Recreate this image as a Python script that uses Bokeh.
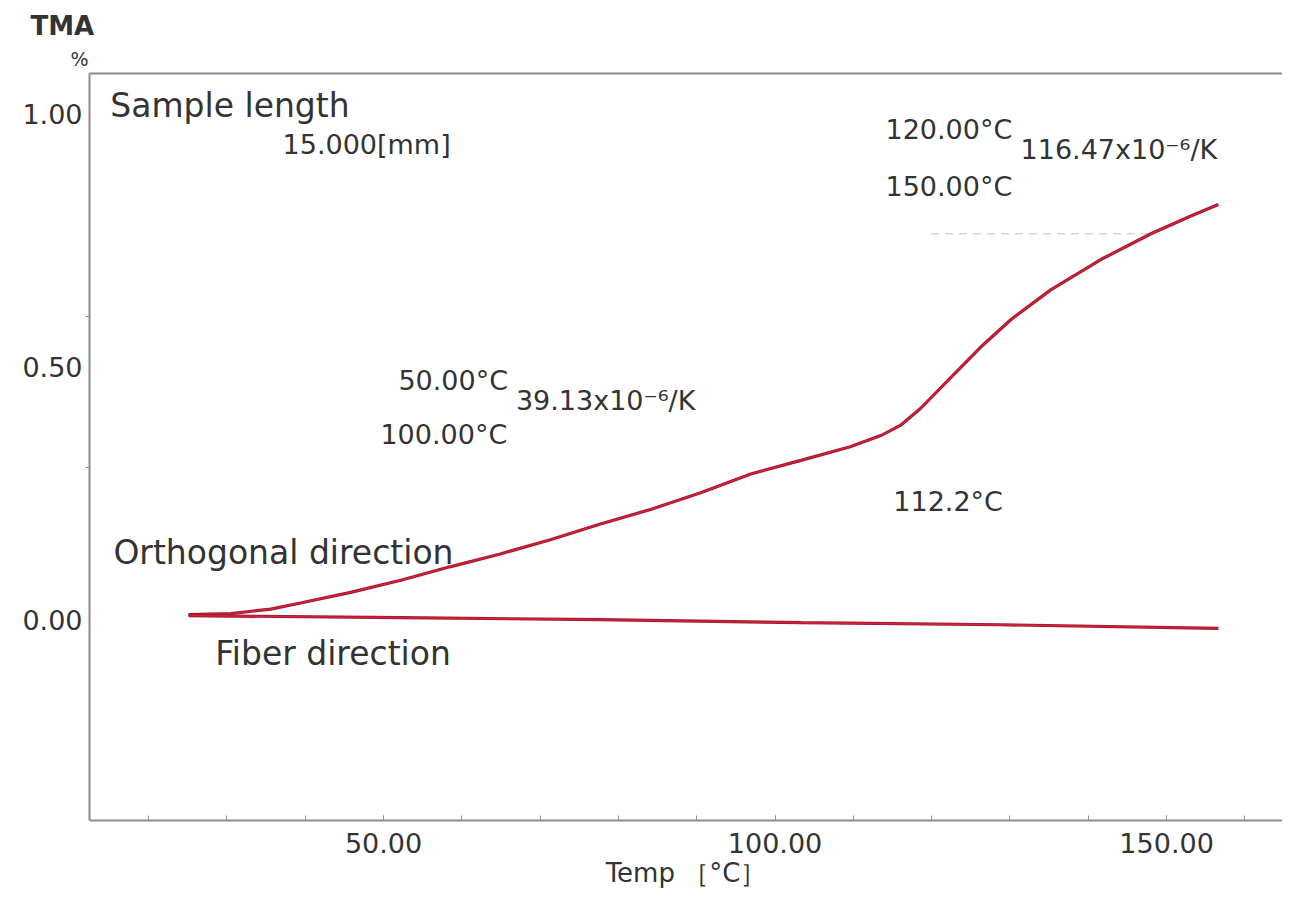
from bokeh.plotting import figure
from bokeh.models import LinearAxis, FixedTicker, Label, Range1d, Title
from bokeh.embed import file_html
from bokeh.resources import INLINE

# ---- data ----
orth_temp = [25.1, 30.5, 35.6, 39.4, 45.8, 52.2, 58.6, 64.9, 71.3, 77.7, 84.1, 90.5,
             96.9, 103.3, 109.6, 113.5, 116.0, 118.6, 122.4, 126.2, 130.1, 135.2,
             141.6, 148.0, 153.1, 156.6]
orth_val = [0.010, 0.012, 0.021, 0.033, 0.054, 0.078, 0.105, 0.130, 0.158, 0.189, 0.218,
            0.251, 0.288, 0.315, 0.342, 0.364, 0.384, 0.418, 0.478, 0.538, 0.593, 0.652,
            0.712, 0.763, 0.798, 0.821]

fiber_temp = [25.1, 52.2, 77.7, 103.3, 128.8, 156.6]
fiber_val = [0.008, 0.004, 0.000, -0.006, -0.010, -0.017]

x_major = [50, 100, 150]
x_minor = [20, 30, 40, 50, 60, 70, 80, 90, 100, 110, 120, 130, 140, 150, 160]
x_labels = {50: "50.00", 100: "100.00", 150: "150.00"}
y_major = [0.0, 0.5, 1.0]
y_minor = [0.3, 0.6]
y_labels = {0.0: "0.00", 0.5: "0.50", 1.0: "1.00"}

tangent_temp = [119.9, 148.0]
tangent_val = [0.763, 0.763]

FONT = "DejaVu Sans"
TXT = "#333333"
AX = "#8c8c8c"

p = figure(width=1282, height=890, output_backend="svg", toolbar_location=None,
           x_range=Range1d(12.45, 164.8), y_range=Range1d(-0.397, 1.0798),
           min_border_left=89, min_border_right=0, min_border_top=73, min_border_bottom=58,
           background_fill_color="white", border_fill_color="white", title=None)
p.outline_line_color = None
p.grid.visible = False

# x axis
xa = p.xaxis[0]
xa.ticker = FixedTicker(ticks=x_major, minor_ticks=x_minor)
xa.major_label_overrides = x_labels
xa.axis_line_color = AX
xa.axis_line_width = 2
xa.major_tick_line_color = AX
xa.minor_tick_line_color = AX
xa.major_tick_in = 5
xa.major_tick_out = 0
xa.minor_tick_in = 5
xa.minor_tick_out = 0
xa.major_label_standoff = 12
xa.major_label_text_font = FONT
xa.major_label_text_font_size = "27px"
xa.major_label_text_color = TXT
xa.axis_label = "Temp ［°C］"
xa.axis_label_text_font = FONT
xa.axis_label_text_font_size = "26px"
xa.axis_label_text_font_style = "normal"
xa.axis_label_text_color = TXT
xa.axis_label_standoff = 2

# y axis
ya = p.yaxis[0]
ya.ticker = FixedTicker(ticks=y_major, minor_ticks=y_minor)
ya.major_label_overrides = y_labels
ya.axis_line_color = AX
ya.axis_line_width = 2
ya.major_tick_line_color = None
ya.major_tick_in = 0
ya.major_tick_out = 0
ya.minor_tick_line_color = AX
ya.minor_tick_in = 0
ya.minor_tick_out = 4
ya.major_label_standoff = 3
ya.major_label_text_font = FONT
ya.major_label_text_font_size = "27px"
ya.major_label_text_color = TXT

# top frame line
top = LinearAxis(ticker=FixedTicker(ticks=[]), axis_line_color=AX, axis_line_width=2,
                 major_tick_line_color=None, minor_tick_line_color=None,
                 major_label_text_font_size="0px")
p.add_layout(top, "above")

# y-axis caption above the frame
p.add_layout(Title(text="%", align="left", offset=-19, text_font=FONT,
                   text_font_size="19px", text_font_style="normal",
                   text_color=TXT, standoff=8), "above")
p.add_layout(Title(text="TMA", align="left", offset=-59, text_font=FONT,
                   text_font_size="26px", text_font_style="bold",
                   text_color=TXT, standoff=2), "above")

# faint tangent line
p.line(tangent_temp, tangent_val, line_color="#d6d6d6", line_width=1.5, line_dash="8 6")

# curves
for xs, ys in ((orth_temp, orth_val), (fiber_temp, fiber_val)):
    p.line(xs, ys, line_color="#9e1a2e", line_width=3.2)
    p.line(xs, ys, line_color="#d42038", line_width=1.4)

def lab(x, y, t, size="27px", style="normal"):
    p.add_layout(Label(x=x, y=y, text=t, text_font=FONT, text_font_size=size,
                       text_font_style=style, text_color=TXT,
                       text_baseline="middle", text_align="left"))

lab(15.1, 1.0175, "Sample length", "33px")
lab(37.1, 0.9397, "15.000[mm]")
lab(114.1, 0.969, "120.00°C")
lab(131.35, 0.930, "116.47x10⁻⁶/K")
lab(114.1, 0.856, "150.00°C")
lab(51.9, 0.473, "50.00°C")
lab(66.9, 0.434, "39.13x10⁻⁶/K")
lab(49.6, 0.366, "100.00°C")
lab(115.1, 0.2335, "112.2°C")
lab(15.5, 0.132, "Orthogonal direction", "33px")
lab(28.5, -0.066, "Fiber direction", "33px")

open("out.html", "w").write(file_html(p, INLINE))
